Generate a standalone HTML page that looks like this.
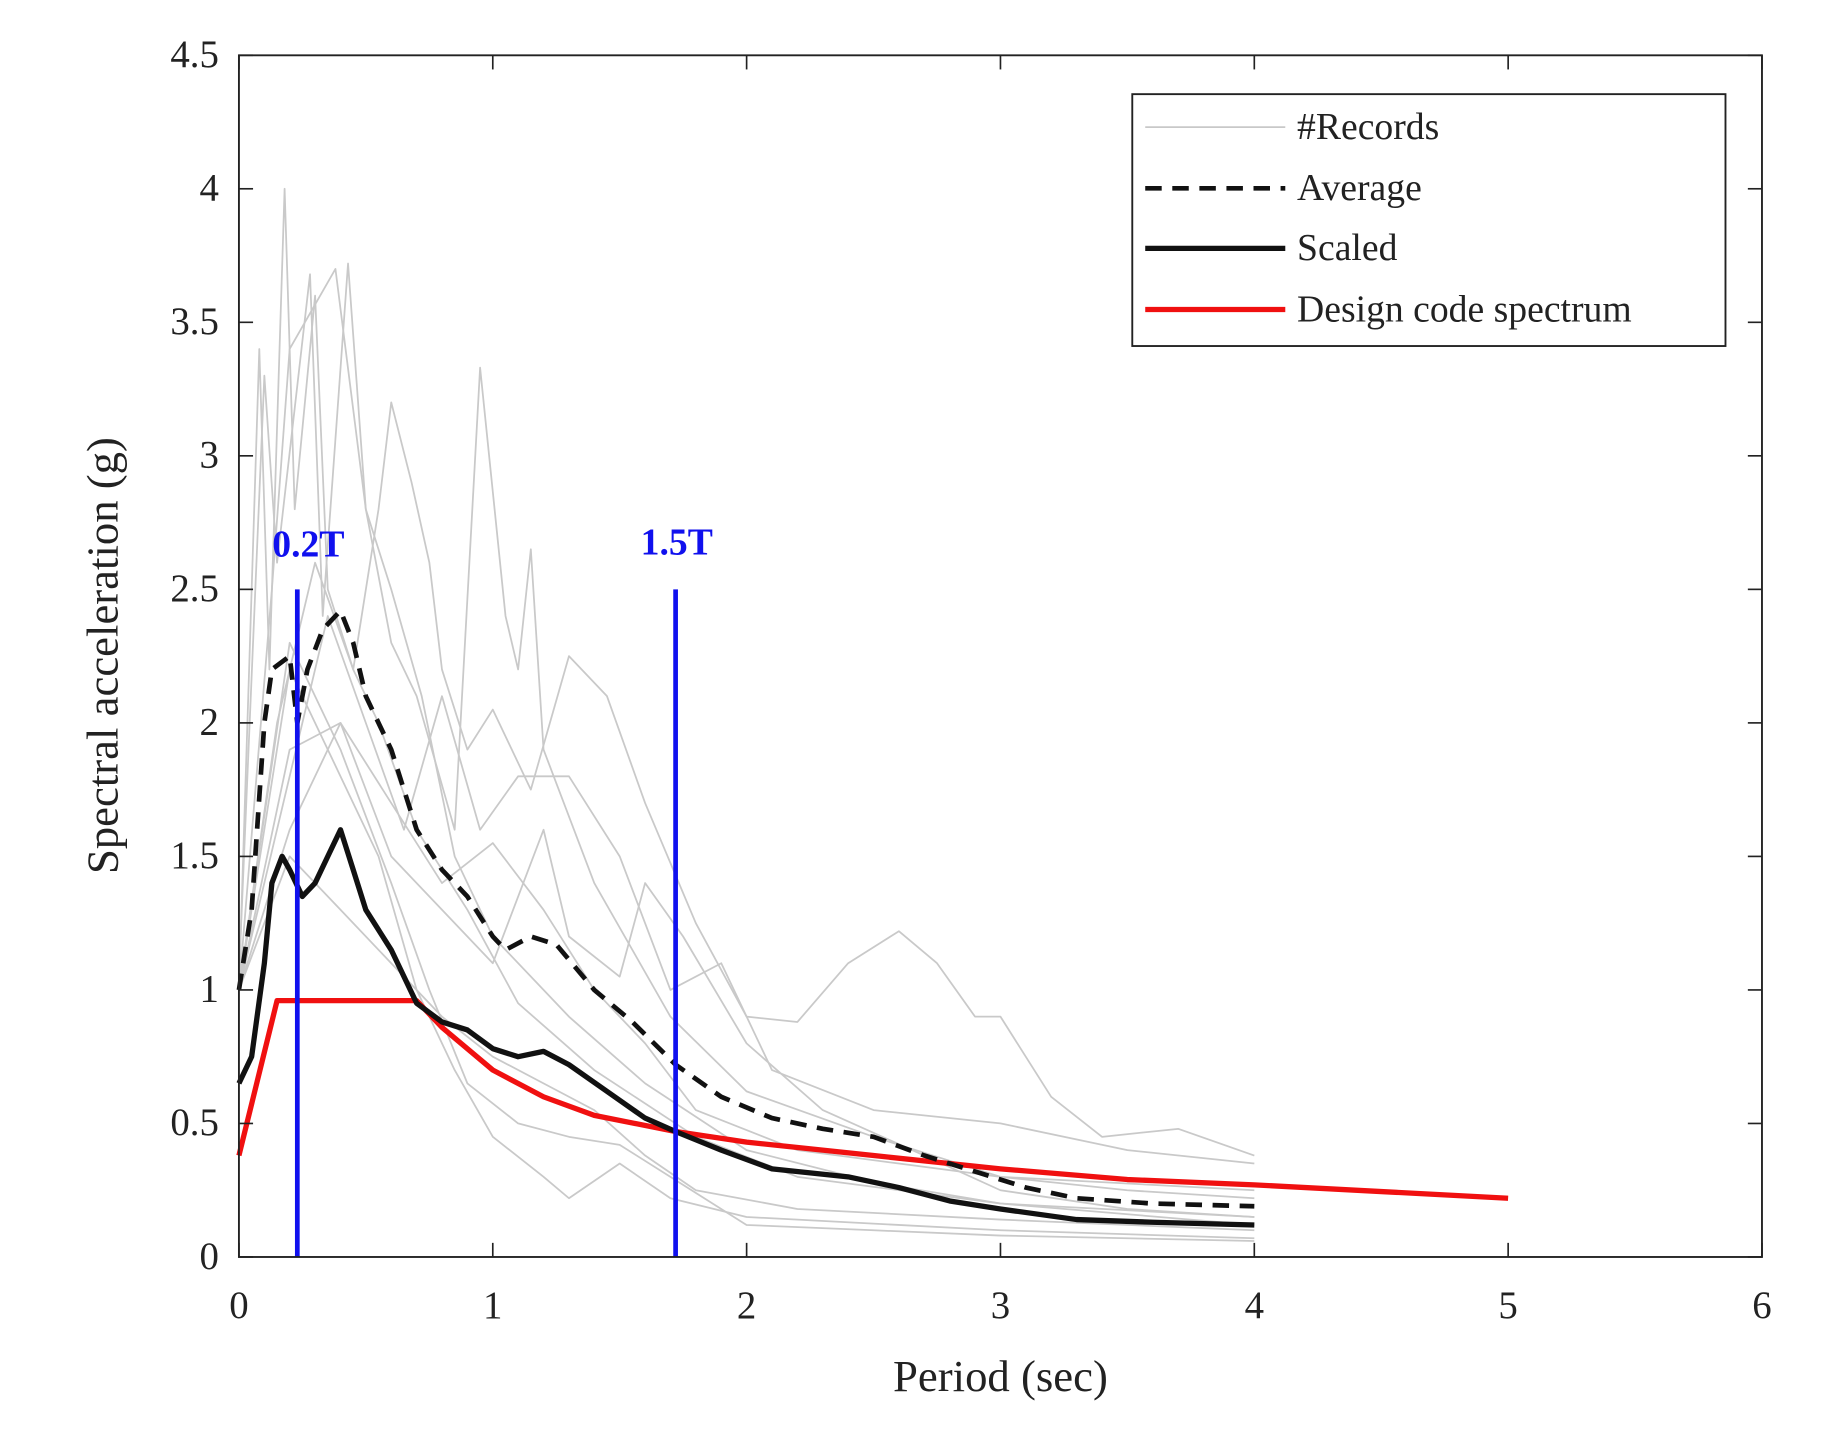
<!DOCTYPE html>
<html><head><meta charset="utf-8"><style>
html,body{margin:0;padding:0;background:#fff}
svg{display:block}
text{font-family:"Liberation Serif",serif;fill:#222}
</style></head><body>
<svg id="s" width="1822" height="1430" viewBox="0 0 1548 1215" preserveAspectRatio="none">
<rect x="0" y="0" width="1548" height="1215" fill="#fff"/>
<g id="g"></g>
<rect x="203" y="47" width="1294" height="1021" fill="none" stroke="#222" stroke-width="1.6"/>
<g id="ticks" stroke="#222" stroke-width="1.4"></g>
<g id="lab" font-size="33"></g>
<text x="850" y="1182" font-size="38" text-anchor="middle">Period (sec)</text>
<text transform="translate(100,557) rotate(-90)" font-size="38" text-anchor="middle">Spectral acceleration (g)</text>
<text x="262" y="473" font-size="32" font-weight="bold" style="fill:#1010ee" text-anchor="middle">0.2T</text>
<text x="575" y="471" font-size="32" font-weight="bold" style="fill:#1010ee" text-anchor="middle">1.5T</text>
<rect x="962" y="80" width="504" height="214" fill="#fff" stroke="#222" stroke-width="1.6"/>
<line x1="973" y1="108" x2="1092" y2="108" stroke="#c8c8c8" stroke-width="1.5"/>
<line x1="973" y1="160" x2="1092" y2="160" stroke="#111" stroke-width="4" stroke-dasharray="14,9"/>
<line x1="973" y1="211" x2="1092" y2="211" stroke="#111" stroke-width="4.5"/>
<line x1="973" y1="263" x2="1092" y2="263" stroke="#f01010" stroke-width="4.5"/>
<text x="1102" y="118" font-size="32">#Records</text>
<text x="1102" y="170" font-size="32">Average</text>
<text x="1102" y="221" font-size="32">Scaled</text>
<text x="1102" y="273" font-size="32">Design code spectrum</text>
</svg>
<script>
var X=function(x){return 203+215.67*x},Y=function(y){return 1068-226.9*y};
var NS="http://www.w3.org/2000/svg",g=document.getElementById('g');
function pl(d,st,w,dash){var p=document.createElementNS(NS,'polyline');p.setAttribute('points',d.map(function(a){return X(a[0]).toFixed(1)+','+Y(a[1]).toFixed(1)}).join(' '));p.setAttribute('fill','none');p.setAttribute('stroke',st);p.setAttribute('stroke-width',w);p.setAttribute('stroke-linejoin','round');if(dash)p.setAttribute('stroke-dasharray',dash);g.appendChild(p);}
var gr=[
[[0,1],[0.08,3.4],[0.12,2.2],[0.18,4.0],[0.22,2.8],[0.3,3.6],[0.35,2.5],[0.45,2.2],[0.55,2.0],[0.7,1.6],[0.9,1.3],[1.1,0.95],[1.4,0.7],[1.8,0.45],[2.2,0.3],[3,0.2],[4,0.15]],
[[0,1.05],[0.1,3.3],[0.15,2.6],[0.28,3.68],[0.33,2.4],[0.43,3.72],[0.5,2.8],[0.6,2.5],[0.72,2.1],[0.85,1.5],[1,1.2],[1.3,0.9],[1.6,0.65],[2,0.4],[2.5,0.28],[3,0.2],[4,0.12]],
[[0,1.0],[0.13,2.5],[0.2,3.4],[0.38,3.7],[0.42,3.4],[0.5,2.8],[0.6,2.3],[0.7,2.1],[0.85,1.6],[0.95,3.33],[1.05,2.4],[1.1,2.2],[1.15,2.65],[1.2,1.9],[1.4,1.4],[1.7,0.9],[2,0.62],[2.5,0.45],[3,0.3],[3.5,0.25],[4,0.22]],
[[0,1.0],[0.15,2.0],[0.3,2.6],[0.45,2.2],[0.55,2.8],[0.6,3.2],[0.68,2.9],[0.75,2.6],[0.8,2.2],[0.9,1.9],[1,2.05],[1.15,1.75],[1.3,2.25],[1.45,2.1],[1.6,1.7],[1.8,1.25],[2,0.9],[2.2,0.88],[2.4,1.1],[2.6,1.22],[2.75,1.1],[2.9,0.9],[3.0,0.9],[3.2,0.6],[3.4,0.45],[3.7,0.48],[4,0.38]],
[[0,1.0],[0.2,1.8],[0.35,2.4],[0.5,2.0],[0.65,1.6],[0.8,2.1],[0.95,1.6],[1.1,1.8],[1.3,1.8],[1.5,1.5],[1.7,1.0],[1.9,1.1],[2.1,0.7],[2.5,0.55],[3,0.5],[3.5,0.4],[4,0.35]],
[[0,1.0],[0.2,2.2],[0.4,1.8],[0.55,1.5],[0.7,1.0],[0.85,0.7],[1,0.45],[1.2,0.3],[1.3,0.22],[1.5,0.35],[1.7,0.22],[2,0.15],[3,0.1],[4,0.07]],
[[0,1.0],[0.2,2.3],[0.4,1.9],[0.6,1.4],[0.75,1.0],[0.9,0.65],[1.1,0.5],[1.3,0.45],[1.5,0.42],[1.7,0.3],[2,0.12],[2.5,0.1],[3,0.08],[4,0.06]],
[[0,1.0],[0.2,1.9],[0.4,2.0],[0.6,1.5],[0.8,1.3],[1.0,1.1],[1.2,1.6],[1.3,1.2],[1.5,1.05],[1.6,1.4],[1.75,1.2],[2,0.8],[2.3,0.55],[2.7,0.38],[3,0.25],[3.5,0.18],[4,0.15]],
[[0,1.0],[0.2,1.6],[0.4,2.0],[0.6,1.7],[0.8,1.4],[1.0,1.55],[1.2,1.3],[1.4,1.0],[1.6,0.8],[1.8,0.55],[2.2,0.4],[2.6,0.35],[3,0.3],[4,0.25]],
[[0,1.0],[0.2,1.5],[0.4,1.3],[0.6,1.1],[0.8,0.9],[1.0,0.75],[1.2,0.65],[1.4,0.55],[1.6,0.38],[1.8,0.25],[2.2,0.18],[3,0.14],[4,0.1]]
];
gr.forEach(function(d){pl(d,'#c9c9c9',1.5)});
pl([[0,0.38],[0.15,0.96],[0.7,0.96],[0.8,0.86],[1.0,0.70],[1.2,0.6],[1.4,0.53],[1.72,0.47],[2,0.43],[2.5,0.38],[3,0.33],[3.5,0.29],[4,0.27],[4.5,0.245],[5,0.22]],'#f01010',4.5);
pl([[0,0.65],[0.05,0.75],[0.1,1.1],[0.13,1.4],[0.17,1.5],[0.2,1.45],[0.25,1.35],[0.3,1.4],[0.35,1.5],[0.4,1.6],[0.45,1.45],[0.5,1.3],[0.6,1.15],[0.7,0.95],[0.8,0.88],[0.9,0.85],[1.0,0.78],[1.1,0.75],[1.2,0.77],[1.3,0.72],[1.45,0.62],[1.6,0.52],[1.72,0.47],[1.9,0.4],[2.1,0.33],[2.4,0.3],[2.6,0.26],[2.8,0.21],[3.0,0.18],[3.3,0.14],[3.6,0.13],[4.0,0.12]],'#111',4.5);
pl([[0,1.0],[0.05,1.3],[0.1,2.0],[0.13,2.2],[0.2,2.25],[0.23,2.0],[0.27,2.2],[0.33,2.35],[0.4,2.42],[0.45,2.3],[0.5,2.1],[0.6,1.9],[0.7,1.6],[0.8,1.45],[0.9,1.35],[1.0,1.2],[1.05,1.15],[1.15,1.2],[1.25,1.17],[1.4,1.0],[1.55,0.88],[1.72,0.72],[1.9,0.6],[2.1,0.52],[2.3,0.48],[2.5,0.45],[2.7,0.38],[2.9,0.32],[3.1,0.26],[3.3,0.22],[3.6,0.2],[4.0,0.19]],'#111',4,'14,9');
pl([[0.23,0],[0.23,2.5]],'#1010ee',4);
pl([[1.72,0],[1.72,2.5]],'#1010ee',4);
var t=document.getElementById('ticks'),l=document.getElementById('lab');
function ln(a,b,c,d){var e=document.createElementNS(NS,'line');e.setAttribute('x1',a);e.setAttribute('y1',b);e.setAttribute('x2',c);e.setAttribute('y2',d);t.appendChild(e);}
function tx(x,y,s,anc){var e=document.createElementNS(NS,'text');e.setAttribute('x',x);e.setAttribute('y',y);e.setAttribute('text-anchor',anc);e.textContent=s;l.appendChild(e);}
for(var i=0;i<=6;i++){var x=X(i);ln(x,1068,x,1056);ln(x,47,x,59);tx(x,1120,String(i),'middle');}
for(var j=0;j<=9;j++){var v=j*0.5,y=Y(v);ln(203,y,215,y);ln(1497,y,1485,y);tx(186,y+10,String(v),'end');}
</script>
</body></html>
